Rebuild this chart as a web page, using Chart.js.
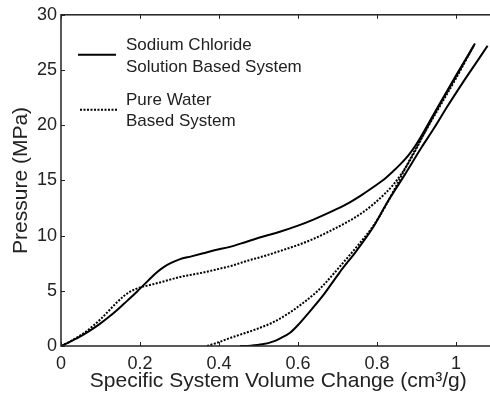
<!DOCTYPE html>
<html>
<head>
<meta charset="utf-8">
<script src="https://cdn.jsdelivr.net/npm/chart.js@4.4.1/dist/chart.umd.min.js"></script>
<style>
  html, body { margin: 0; padding: 0; background: #fff; overflow: hidden; }
  #wrap { width: 500px; height: 398px; }
</style>
</head>
<body>
<div id="wrap"><canvas id="pvChart"></canvas></div>
<script>
// Sodium chloride solution based system (solid)
const naclLoadX = [0, 0.02, 0.04, 0.06, 0.08, 0.1, 0.12, 0.14, 0.16, 0.18, 0.2, 0.22, 0.24, 0.26, 0.28, 0.3, 0.33, 0.36, 0.386, 0.43, 0.47, 0.51, 0.554, 0.6, 0.639, 0.68, 0.723, 0.76, 0.791, 0.82, 0.84, 0.86, 0.88, 0.9, 0.92, 0.95, 1.0, 1.048];
const naclLoadY = [0, 0.32, 0.7, 1.1, 1.55, 2.05, 2.6, 3.2, 3.85, 4.5, 5.2, 5.9, 6.6, 7.15, 7.55, 7.85, 8.12, 8.4, 8.65, 9.0, 9.45, 9.9, 10.35, 10.9, 11.45, 12.1, 12.85, 13.65, 14.4, 15.15, 15.8, 16.5, 17.3, 18.3, 19.5, 21.4, 24.5, 27.4];
const naclUnloadX = [0.453, 0.48, 0.51, 0.538, 0.555, 0.58, 0.6, 0.622, 0.664, 0.706, 0.749, 0.791, 0.825, 0.87, 0.913, 0.943, 0.98, 1.018, 1.05, 1.08];
const naclUnloadY = [0, 0.03, 0.15, 0.42, 0.7, 1.2, 1.9, 2.8, 4.6, 6.7, 8.67, 10.8, 12.95, 15.5, 18.0, 19.65, 21.8, 23.9, 25.6, 27.2];

// Pure water based system (dotted)
const waterLoadX = [0, 0.02, 0.04, 0.06, 0.08, 0.1, 0.12, 0.14, 0.16, 0.175, 0.19, 0.2, 0.22, 0.25, 0.301, 0.352, 0.386, 0.43, 0.47, 0.51, 0.554, 0.6, 0.639, 0.68, 0.723, 0.76, 0.791, 0.82, 0.841, 0.86, 0.88, 0.9, 0.92, 0.95, 1.0, 1.045];
const waterLoadY = [0, 0.35, 0.76, 1.22, 1.78, 2.42, 3.15, 3.9, 4.55, 4.92, 5.17, 5.3, 5.48, 5.75, 6.25, 6.6, 6.87, 7.25, 7.7, 8.1, 8.6, 9.15, 9.7, 10.4, 11.2, 12.0, 12.85, 13.8, 14.6, 15.5, 16.6, 17.9, 19.3, 21.3, 24.4, 27.2];
const waterUnloadX = [0.37, 0.4, 0.43, 0.46, 0.5, 0.54, 0.58, 0.6, 0.622, 0.647, 0.664, 0.706, 0.749, 0.791, 0.825, 0.86, 0.89, 0.917, 0.95, 1.0, 1.045];
const waterUnloadY = [0, 0.35, 0.75, 1.1, 1.6, 2.2, 3.05, 3.55, 4.15, 4.9, 5.5, 7.2, 9.0, 10.9, 12.9, 15.3, 17.35, 19.1, 21.15, 24.25, 27.2];

const xTicks = [0, 0.2, 0.4, 0.6, 0.8, 1];
const yTicks = [0, 5, 10, 15, 20, 25, 30];

const legendLines = [
  ["Sodium Chloride", "Solution Based System"],
  ["Pure Water", "Based System"]
];

const textColor = '#222';
const fontFamily = '"Liberation Sans", Arial, Helvetica, sans-serif';
Chart.defaults.font.family = fontFamily;

function points(xs, ys) {
  return xs.map((x, i) => ({x: x, y: ys[i]}));
}

function lineSet(label, xs, ys, dashed) {
  return {
    label: label,
    data: points(xs, ys),
    borderColor: '#000',
    borderWidth: 2,
    borderDash: dashed ? [2, 1.5] : [],
    pointRadius: 0,
    fill: false,
    showLine: true,
    cubicInterpolationMode: 'monotone'
  };
}

// matlab style box with inward ticks + the two line legend
const frameAndLegend = {
  id: 'frameAndLegend',
  afterDatasetsDraw(chart) {
    const ctx = chart.ctx;
    const a = chart.chartArea;
    const xs = chart.scales.x, ys = chart.scales.y;
    ctx.save();
    ctx.strokeStyle = '#222';
    ctx.lineWidth = 1.5;
    ctx.setLineDash([]);
    ctx.strokeRect(a.left, a.top, a.right - a.left, a.bottom - a.top);
    ctx.lineWidth = 1;
    ctx.beginPath();
    xTicks.forEach(v => {
      const px = Math.round(xs.getPixelForValue(v)) + 0.5;
      ctx.moveTo(px, a.bottom); ctx.lineTo(px, a.bottom - 4);
      ctx.moveTo(px, a.top); ctx.lineTo(px, a.top + 4);
    });
    yTicks.forEach(v => {
      const py = Math.round(ys.getPixelForValue(v)) + 0.5;
      ctx.moveTo(a.left, py); ctx.lineTo(a.left + 4, py);
      ctx.moveTo(a.right, py); ctx.lineTo(a.right - 4, py);
    });
    ctx.stroke();

    // legend
    const lx = a.left + 17;
    const tx = a.left + 65;
    ctx.font = '17px ' + fontFamily;
    ctx.fillStyle = textColor;
    ctx.textBaseline = 'middle';
    ctx.textAlign = 'left';

    ctx.lineWidth = 2;
    ctx.strokeStyle = '#000';
    ctx.beginPath();
    ctx.moveTo(lx, a.top + 40); ctx.lineTo(lx + 38, a.top + 40);
    ctx.stroke();
    ctx.fillText(legendLines[0][0], tx, a.top + 31);
    ctx.fillText(legendLines[0][1], tx, a.top + 53);

    ctx.setLineDash([2, 1.5]);
    ctx.beginPath();
    ctx.moveTo(lx + 2, a.top + 95); ctx.lineTo(lx + 39, a.top + 95);
    ctx.stroke();
    ctx.fillText(legendLines[1][0], tx, a.top + 86);
    ctx.fillText(legendLines[1][1], tx, a.top + 107);
    ctx.restore();
  }
};

const config = {
  type: 'scatter',
  data: {
    datasets: [
      lineSet('Sodium Chloride Solution Based System', naclLoadX, naclLoadY, false),
      lineSet('Sodium Chloride Solution Based System', naclUnloadX, naclUnloadY, false),
      lineSet('Pure Water Based System', waterLoadX, waterLoadY, true),
      lineSet('Pure Water Based System', waterUnloadX, waterUnloadY, true)
    ]
  },
  options: {
    responsive: true,
    maintainAspectRatio: false,
    animation: false,
    devicePixelRatio: 1,
    layout: { padding: { top: 14, right: 4.5, left: 0, bottom: 0 } },
    plugins: {
      legend: { display: false },
      tooltip: { enabled: false }
    },
    scales: {
      x: {
        type: 'linear',
        min: 0,
        max: 1.1,
        afterFit: s => { s.height = 52; },
        afterBuildTicks: s => { s.ticks = xTicks.map(v => ({value: v})); },
        grid: { display: false, drawTicks: false },
        border: { display: false },
        ticks: {
          color: textColor,
          font: { size: 18 },
          padding: 7,
          maxRotation: 0,
          callback: v => String(v)
        },
        title: {
          display: true,
          text: 'Specific System Volume Change (cm³/g)',
          color: textColor,
          font: { size: 21 },
          padding: { top: 0, bottom: 4 }
        }
      },
      y: {
        type: 'linear',
        min: 0,
        max: 30,
        afterFit: s => { s.width = 61; },
        afterBuildTicks: s => { s.ticks = yTicks.map(v => ({value: v})); },
        grid: { display: false, drawTicks: false },
        border: { display: false },
        ticks: {
          color: textColor,
          font: { size: 18 },
          padding: 4,
          callback: v => String(v)
        },
        title: {
          display: true,
          text: 'Pressure (MPa)',
          color: textColor,
          font: { size: 21 },
          padding: { top: 9, bottom: 0 }
        }
      }
    }
  },
  plugins: [frameAndLegend]
};

const canvas = document.getElementById('pvChart');
const pvChart = new Chart(canvas, config);
</script>
</body>
</html>
